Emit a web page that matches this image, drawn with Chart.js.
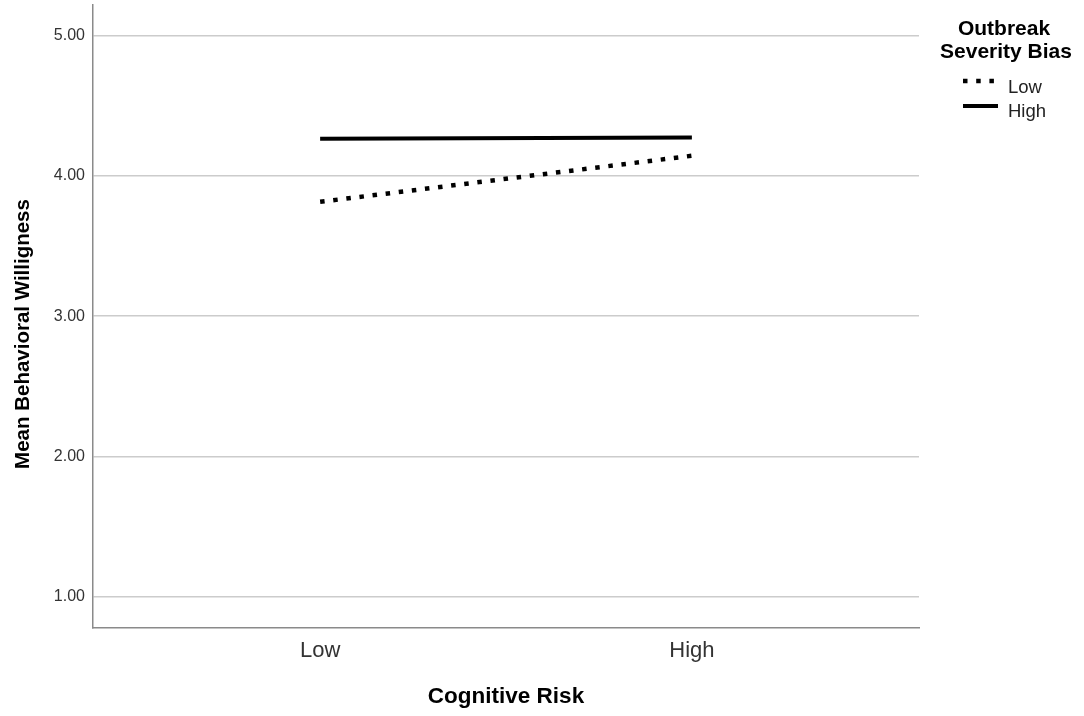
<!DOCTYPE html>
<html>
<head>
<meta charset="utf-8">
<script src="https://cdn.jsdelivr.net/npm/chart.js@4.4.1/dist/chart.umd.min.js"></script>
<style>
  html, body { margin: 0; padding: 0; background: #fff; }
  #wrap { width: 1084px; height: 716px; position: relative; }
</style>
</head>
<body>
<div id="wrap"><canvas id="c" width="1084" height="716"></canvas></div>
<script>
// ---- data ----
const categories = ['Low', 'High'];            // Cognitive Risk
const seriesNames = ['Low', 'High'];           // Outbreak Severity Bias
const lowBiasValues = [3.815, 4.143];
const highBiasValues = [4.264, 4.274];
const yTickValues = [1, 2, 3, 4, 5];
const xTitle = 'Cognitive Risk';
const yTitle = 'Mean Behavioral Willigness';
const legendTitle = ['Outbreak', 'Severity Bias'];

const FONT = "'Liberation Sans', Arial, Helvetica, sans-serif";

function toPoints(vals) { return vals.map((v, i) => ({ x: i, y: v })); }

const yTitlePlugin = {
  id: 'yTitle',
  afterDraw(chart) {
    const ctx = chart.ctx;
    const ca = chart.chartArea;
    ctx.save();
    ctx.font = "bold 20.5px " + FONT;
    ctx.fillStyle = '#000';
    ctx.textAlign = 'center';
    ctx.textBaseline = 'alphabetic';
    ctx.translate(29, (ca.top + ca.bottom) / 2 + 17.5);
    ctx.rotate(-Math.PI / 2);
    ctx.fillText(yTitle, 0, 0);
    ctx.restore();
  }
};

const legendPlugin = {
  id: 'customLegend',
  afterDraw(chart) {
    const ctx = chart.ctx;
    ctx.save();
    ctx.fillStyle = '#000';
    ctx.font = "bold 21px " + FONT;
    ctx.textAlign = 'center';
    ctx.textBaseline = 'alphabetic';
    ctx.fillText(legendTitle[0], 1004, 34.5);
    ctx.fillText(legendTitle[1], 1006, 57.5);
    const rows = [{ line: 81, text: 93.3 }, { line: 106, text: 117 }];
    chart.data.datasets.forEach((ds, i) => {
      const r = rows[i];
      ctx.beginPath();
      ctx.setLineDash(ds.borderDash || []);
      ctx.lineWidth = ds.borderWidth;
      ctx.strokeStyle = ds.borderColor;
      ctx.lineCap = 'butt';
      ctx.moveTo(963, r.line);
      ctx.lineTo(998, r.line);
      ctx.stroke();
      ctx.setLineDash([]);
      ctx.font = "18.5px " + FONT;
      ctx.fillStyle = '#222';
      ctx.textAlign = 'left';
      ctx.fillText(ds.label, 1008, r.text);
    });
    ctx.restore();
  }
};

new Chart(document.getElementById('c'), {
  type: 'line',
  data: {
    datasets: [
      {
        label: seriesNames[0],
        data: toPoints(lowBiasValues),
        borderColor: '#000',
        borderWidth: 4.5,
        borderDash: [4.5, 8.7],
        borderCapStyle: 'butt',
        pointRadius: 0,
        fill: false
      },
      {
        label: seriesNames[1],
        data: toPoints(highBiasValues),
        borderColor: '#000',
        borderWidth: 4,
        borderCapStyle: 'butt',
        pointRadius: 0,
        fill: false
      }
    ]
  },
  options: {
    responsive: false,
    animation: false,
    devicePixelRatio: 1,
    layout: { padding: { top: 5, right: 165, left: 0, bottom: 0 } },
    plugins: { legend: { display: false }, tooltip: { enabled: false } },
    scales: {
      x: {
        type: 'linear',
        min: -0.611,
        max: 1.611,
        afterBuildTicks(scale) { scale.ticks = categories.map((c, i) => ({ value: i })); },
        afterFit(scale) { scale.height = 88; scale.paddingLeft = 0; scale.paddingRight = 0; },
        grid: { display: false, drawTicks: false },
        border: { display: true, color: '#8a8a8a', width: 1.5 },
        ticks: {
          callback: (v) => categories[v],
          font: { family: FONT, size: 22 },
          color: '#333',
          padding: 10,
          maxRotation: 0
        },
        title: {
          display: true,
          text: xTitle,
          font: { family: FONT, size: 22.5, weight: 'bold' },
          color: '#000',
          padding: { top: 0, bottom: 6 }
        }
      },
      y: {
        type: 'linear',
        min: 0.779,
        max: 5.217,
        afterBuildTicks(scale) { scale.ticks = yTickValues.map(v => ({ value: v })); },
        afterFit(scale) { scale.width = 93; scale.paddingTop = 0; scale.paddingBottom = 0; },
        grid: { color: '#cccccc', lineWidth: 1.5, drawTicks: false },
        border: { display: true, color: '#8a8a8a', width: 1.5 },
        ticks: {
          callback: (v) => Number(v).toFixed(2),
          font: { family: FONT, size: 16 },
          color: '#333',
          padding: 8
        }
      }
    }
  },
  plugins: [yTitlePlugin, legendPlugin]
});
</script>
</body>
</html>
